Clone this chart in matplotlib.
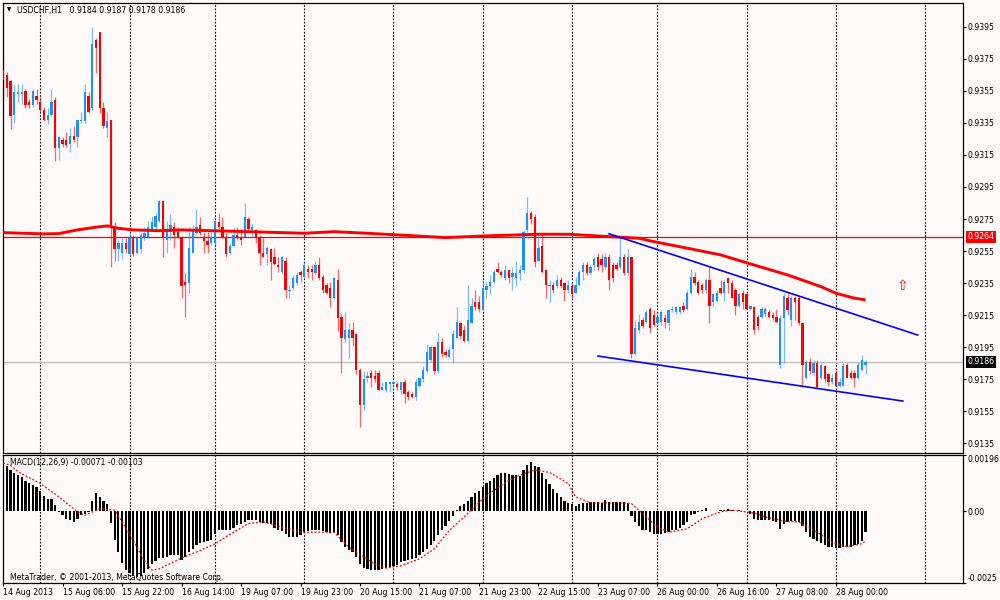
import numpy as np
import matplotlib.pyplot as plt

# USDCHF H1, one entry per hourly bar, 14 Aug 2013 14:00 ... 28 Aug 2013 08:00
opens = [
    0.9368, 0.9365, 0.9361, 0.9340, 0.9353, 0.9353, 0.9355, 0.9348, 0.9346, 0.9352,
    0.9348, 0.9343, 0.9337, 0.9340, 0.9349, 0.9319, 0.9324, 0.9324, 0.9322, 0.9327,
    0.9326, 0.9336, 0.9336, 0.9352, 0.9344, 0.9387, 0.9392, 0.9344, 0.9332, 0.9337,
    0.9270, 0.9256, 0.9254, 0.9260, 0.9253, 0.9264, 0.9254, 0.9256, 0.9264, 0.9264,
    0.9269, 0.9270, 0.9274, 0.9286, 0.9262, 0.9267, 0.9270, 0.9267, 0.9263, 0.9236,
    0.9235, 0.9254, 0.9266, 0.9271, 0.9264, 0.9261, 0.9260, 0.9260, 0.9273, 0.9270,
    0.9264, 0.9254, 0.9258, 0.9265, 0.9264, 0.9264, 0.9275, 0.9268, 0.9268, 0.9264,
    0.9254, 0.9253, 0.9256, 0.9251, 0.9246, 0.9242, 0.9249, 0.9230, 0.9232, 0.9235,
    0.9242, 0.9239, 0.9244, 0.9244, 0.9241, 0.9246, 0.9239, 0.9234, 0.9232, 0.9226,
    0.9237, 0.9214, 0.9200, 0.9201, 0.9206, 0.9203, 0.9181, 0.9159, 0.9176, 0.9179,
    0.9177, 0.9179, 0.9168, 0.9168, 0.9172, 0.9172, 0.9172, 0.9168, 0.9173, 0.9167,
    0.9166, 0.9164, 0.9171, 0.9175, 0.9180, 0.9187, 0.9195, 0.9180, 0.9198, 0.9192,
    0.9189, 0.9194, 0.9201, 0.9210, 0.9206, 0.9199, 0.9210, 0.9223, 0.9223, 0.9218,
    0.9231, 0.9233, 0.9236, 0.9244, 0.9242, 0.9238, 0.9243, 0.9239, 0.9238, 0.9241,
    0.9243, 0.9268, 0.9279, 0.9276, 0.9249, 0.9258, 0.9243, 0.9233, 0.9234, 0.9233,
    0.9237, 0.9235, 0.9231, 0.9233, 0.9229, 0.9234, 0.9242, 0.9246, 0.9241, 0.9246,
    0.9251, 0.9250, 0.9245, 0.9251, 0.9246, 0.9246, 0.9245, 0.9251, 0.9241, 0.9251,
    0.9191, 0.9206, 0.9212, 0.9211, 0.9219, 0.9215, 0.9210, 0.9211, 0.9213, 0.9210,
    0.9218, 0.9217, 0.9217, 0.9221, 0.9219, 0.9229, 0.9239, 0.9236, 0.9234, 0.9231,
    0.9237, 0.9223, 0.9224, 0.9232, 0.9229, 0.9238, 0.9235, 0.9231, 0.9221, 0.9229,
    0.9228, 0.9219, 0.9220, 0.9214, 0.9214, 0.9216, 0.9217, 0.9215, 0.9214, 0.9184,
    0.9213, 0.9226, 0.9212, 0.9226, 0.9226, 0.9210, 0.9176, 0.9186, 0.9179, 0.9185,
    0.9176, 0.9183, 0.9178, 0.9173, 0.9179, 0.9171, 0.9171, 0.9184, 0.9179, 0.9179,
    0.9176, 0.9181, 0.9184,
]
highs = [
    0.9377, 0.9367, 0.9362, 0.9359, 0.9359, 0.9359, 0.9356, 0.9350, 0.9356, 0.9356,
    0.9351, 0.9345, 0.9344, 0.9356, 0.9351, 0.9327, 0.9326, 0.9329, 0.9332, 0.9333,
    0.9337, 0.9342, 0.9359, 0.9354, 0.9395, 0.9388, 0.9392, 0.9348, 0.9342, 0.9337,
    0.9273, 0.9262, 0.9263, 0.9263, 0.9266, 0.9265, 0.9264, 0.9266, 0.9270, 0.9274,
    0.9277, 0.9279, 0.9287, 0.9287, 0.9274, 0.9278, 0.9273, 0.9270, 0.9264, 0.9241,
    0.9270, 0.9271, 0.9281, 0.9276, 0.9267, 0.9267, 0.9267, 0.9274, 0.9279, 0.9276,
    0.9266, 0.9260, 0.9270, 0.9270, 0.9269, 0.9285, 0.9276, 0.9272, 0.9269, 0.9265,
    0.9263, 0.9258, 0.9257, 0.9257, 0.9251, 0.9252, 0.9251, 0.9234, 0.9240, 0.9242,
    0.9243, 0.9249, 0.9246, 0.9246, 0.9249, 0.9251, 0.9240, 0.9235, 0.9236, 0.9239,
    0.9244, 0.9216, 0.9217, 0.9210, 0.9211, 0.9204, 0.9182, 0.9180, 0.9180, 0.9181,
    0.9181, 0.9181, 0.9173, 0.9173, 0.9174, 0.9174, 0.9173, 0.9173, 0.9175, 0.9168,
    0.9167, 0.9175, 0.9176, 0.9183, 0.9197, 0.9196, 0.9196, 0.9204, 0.9201, 0.9194,
    0.9195, 0.9206, 0.9220, 0.9211, 0.9209, 0.9234, 0.9226, 0.9231, 0.9227, 0.9237,
    0.9236, 0.9240, 0.9243, 0.9248, 0.9243, 0.9246, 0.9244, 0.9245, 0.9249, 0.9246,
    0.9268, 0.9289, 0.9280, 0.9278, 0.9266, 0.9266, 0.9244, 0.9237, 0.9236, 0.9240,
    0.9239, 0.9236, 0.9237, 0.9235, 0.9239, 0.9243, 0.9248, 0.9248, 0.9246, 0.9251,
    0.9254, 0.9253, 0.9254, 0.9253, 0.9248, 0.9248, 0.9264, 0.9253, 0.9256, 0.9251,
    0.9212, 0.9216, 0.9214, 0.9218, 0.9220, 0.9218, 0.9217, 0.9218, 0.9216, 0.9219,
    0.9221, 0.9221, 0.9221, 0.9223, 0.9231, 0.9244, 0.9242, 0.9237, 0.9235, 0.9238,
    0.9245, 0.9229, 0.9231, 0.9237, 0.9237, 0.9238, 0.9237, 0.9232, 0.9229, 0.9231,
    0.9229, 0.9221, 0.9221, 0.9215, 0.9220, 0.9220, 0.9218, 0.9217, 0.9219, 0.9215,
    0.9229, 0.9229, 0.9227, 0.9227, 0.9227, 0.9211, 0.9187, 0.9188, 0.9187, 0.9187,
    0.9185, 0.9184, 0.9179, 0.9178, 0.9181, 0.9176, 0.9185, 0.9185, 0.9181, 0.9181,
    0.9186, 0.9190, 0.9187,
]
lows = [
    0.9351, 0.9351, 0.9331, 0.9335, 0.9348, 0.9347, 0.9344, 0.9344, 0.9345, 0.9347,
    0.9342, 0.9336, 0.9334, 0.9339, 0.9311, 0.9312, 0.9320, 0.9320, 0.9317, 0.9323,
    0.9320, 0.9335, 0.9335, 0.9341, 0.9343, 0.9366, 0.9341, 0.9332, 0.9326, 0.9245,
    0.9249, 0.9249, 0.9250, 0.9254, 0.9252, 0.9252, 0.9253, 0.9254, 0.9262, 0.9263,
    0.9268, 0.9269, 0.9273, 0.9251, 0.9254, 0.9262, 0.9257, 0.9263, 0.9226, 0.9214,
    0.9229, 0.9254, 0.9265, 0.9265, 0.9254, 0.9254, 0.9259, 0.9259, 0.9269, 0.9263,
    0.9251, 0.9253, 0.9258, 0.9262, 0.9259, 0.9264, 0.9268, 0.9264, 0.9260, 0.9246,
    0.9251, 0.9246, 0.9237, 0.9246, 0.9242, 0.9241, 0.9226, 0.9226, 0.9231, 0.9234,
    0.9236, 0.9238, 0.9238, 0.9237, 0.9240, 0.9237, 0.9229, 0.9228, 0.9220, 0.9225,
    0.9205, 0.9179, 0.9198, 0.9188, 0.9196, 0.9178, 0.9145, 0.9156, 0.9173, 0.9170,
    0.9173, 0.9168, 0.9168, 0.9167, 0.9167, 0.9168, 0.9168, 0.9166, 0.9160, 0.9162,
    0.9163, 0.9162, 0.9170, 0.9173, 0.9179, 0.9186, 0.9178, 0.9179, 0.9189, 0.9189,
    0.9188, 0.9185, 0.9201, 0.9200, 0.9198, 0.9198, 0.9210, 0.9218, 0.9217, 0.9218,
    0.9226, 0.9228, 0.9235, 0.9241, 0.9239, 0.9237, 0.9235, 0.9231, 0.9233, 0.9237,
    0.9241, 0.9267, 0.9272, 0.9245, 0.9249, 0.9241, 0.9226, 0.9223, 0.9229, 0.9232,
    0.9232, 0.9224, 0.9229, 0.9226, 0.9229, 0.9233, 0.9237, 0.9240, 0.9240, 0.9243,
    0.9243, 0.9242, 0.9244, 0.9231, 0.9236, 0.9243, 0.9244, 0.9240, 0.9240, 0.9188,
    0.9190, 0.9204, 0.9207, 0.9210, 0.9204, 0.9208, 0.9208, 0.9209, 0.9207, 0.9206,
    0.9217, 0.9216, 0.9216, 0.9217, 0.9218, 0.9228, 0.9234, 0.9228, 0.9229, 0.9229,
    0.9210, 0.9221, 0.9223, 0.9228, 0.9224, 0.9229, 0.9226, 0.9215, 0.9220, 0.9219,
    0.9218, 0.9218, 0.9203, 0.9206, 0.9213, 0.9214, 0.9213, 0.9212, 0.9210, 0.9182,
    0.9185, 0.9215, 0.9208, 0.9212, 0.9209, 0.9170, 0.9175, 0.9178, 0.9177, 0.9169,
    0.9175, 0.9173, 0.9171, 0.9172, 0.9170, 0.9170, 0.9171, 0.9176, 0.9175, 0.9170,
    0.9175, 0.9180, 0.9178,
]
closes = [
    0.9362, 0.9357, 0.9339, 0.9354, 0.9354, 0.9354, 0.9346, 0.9346, 0.9355, 0.9349,
    0.9343, 0.9337, 0.9340, 0.9348, 0.9319, 0.9326, 0.9322, 0.9321, 0.9327, 0.9324,
    0.9337, 0.9337, 0.9354, 0.9342, 0.9384, 0.9382, 0.9344, 0.9333, 0.9336, 0.9270,
    0.9256, 0.9260, 0.9260, 0.9256, 0.9263, 0.9253, 0.9263, 0.9265, 0.9266, 0.9270,
    0.9273, 0.9277, 0.9286, 0.9263, 0.9269, 0.9271, 0.9265, 0.9264, 0.9233, 0.9234,
    0.9257, 0.9269, 0.9270, 0.9266, 0.9261, 0.9259, 0.9264, 0.9274, 0.9270, 0.9264,
    0.9253, 0.9258, 0.9265, 0.9264, 0.9262, 0.9276, 0.9269, 0.9270, 0.9264, 0.9254,
    0.9251, 0.9257, 0.9248, 0.9247, 0.9245, 0.9251, 0.9231, 0.9231, 0.9238, 0.9240,
    0.9240, 0.9246, 0.9242, 0.9242, 0.9246, 0.9238, 0.9231, 0.9229, 0.9226, 0.9238,
    0.9213, 0.9201, 0.9206, 0.9206, 0.9201, 0.9181, 0.9159, 0.9175, 0.9177, 0.9176,
    0.9175, 0.9168, 0.9170, 0.9173, 0.9173, 0.9173, 0.9170, 0.9173, 0.9166, 0.9164,
    0.9164, 0.9173, 0.9176, 0.9181, 0.9192, 0.9195, 0.9180, 0.9198, 0.9191, 0.9190,
    0.9193, 0.9203, 0.9211, 0.9202, 0.9199, 0.9212, 0.9221, 0.9220, 0.9219, 0.9232,
    0.9233, 0.9236, 0.9242, 0.9242, 0.9240, 0.9243, 0.9238, 0.9241, 0.9241, 0.9243,
    0.9267, 0.9279, 0.9275, 0.9248, 0.9257, 0.9242, 0.9234, 0.9234, 0.9231, 0.9237,
    0.9233, 0.9231, 0.9234, 0.9228, 0.9234, 0.9242, 0.9246, 0.9241, 0.9245, 0.9250,
    0.9245, 0.9246, 0.9251, 0.9237, 0.9238, 0.9244, 0.9251, 0.9241, 0.9251, 0.9191,
    0.9207, 0.9211, 0.9208, 0.9217, 0.9207, 0.9209, 0.9214, 0.9217, 0.9211, 0.9218,
    0.9219, 0.9220, 0.9220, 0.9218, 0.9229, 0.9239, 0.9235, 0.9229, 0.9231, 0.9237,
    0.9221, 0.9228, 0.9229, 0.9229, 0.9236, 0.9235, 0.9226, 0.9221, 0.9228, 0.9223,
    0.9219, 0.9221, 0.9206, 0.9208, 0.9219, 0.9219, 0.9214, 0.9213, 0.9211, 0.9213,
    0.9227, 0.9218, 0.9226, 0.9223, 0.9210, 0.9184, 0.9186, 0.9180, 0.9185, 0.9170,
    0.9184, 0.9175, 0.9173, 0.9176, 0.9171, 0.9173, 0.9183, 0.9176, 0.9176, 0.9176,
    0.9184, 0.9187, 0.9186,
]

# MACD(12,26,9) main value per bar
macd_main = [
    0.00170, 0.00156, 0.00142, 0.00135, 0.00126, 0.00118, 0.00106, 0.00097, 0.00091, 0.00085,
    0.00071, 0.00053, 0.00044, 0.00041, 0.00021, -0.00004, -0.00014, -0.00026, -0.00032, -0.00037,
    -0.00026, -0.00014, -0.00008, -0.00002, 0.00036, 0.00064, 0.00050, 0.00036, 0.00027, -0.00041,
    -0.00099, -0.00143, -0.00181, -0.00205, -0.00216, -0.00225, -0.00228, -0.00225, -0.00216, -0.00201,
    -0.00184, -0.00172, -0.00163, -0.00163, -0.00158, -0.00154, -0.00151, -0.00154, -0.00170, -0.00158,
    -0.00143, -0.00131, -0.00116, -0.00111, -0.00108, -0.00104, -0.00099, -0.00081, -0.00067, -0.00067,
    -0.00067, -0.00064, -0.00057, -0.00049, -0.00043, -0.00037, -0.00032, -0.00029, -0.00029, -0.00037,
    -0.00041, -0.00041, -0.00046, -0.00057, -0.00067, -0.00069, -0.00078, -0.00090, -0.00090, -0.00090,
    -0.00084, -0.00073, -0.00069, -0.00067, -0.00067, -0.00067, -0.00069, -0.00073, -0.00076, -0.00073,
    -0.00084, -0.00108, -0.00125, -0.00135, -0.00143, -0.00160, -0.00184, -0.00198, -0.00202, -0.00204,
    -0.00205, -0.00205, -0.00202, -0.00198, -0.00193, -0.00190, -0.00186, -0.00178, -0.00172, -0.00170,
    -0.00166, -0.00163, -0.00154, -0.00143, -0.00131, -0.00116, -0.00104, -0.00084, -0.00067, -0.00053,
    -0.00034, -0.00018, 0.00006, 0.00018, 0.00025, 0.00036, 0.00050, 0.00064, 0.00071, 0.00083,
    0.00097, 0.00106, 0.00115, 0.00126, 0.00132, 0.00132, 0.00130, 0.00126, 0.00126, 0.00123,
    0.00142, 0.00161, 0.00173, 0.00158, 0.00153, 0.00132, 0.00111, 0.00095, 0.00076, 0.00062,
    0.00050, 0.00036, 0.00029, 0.00025, 0.00018, 0.00025, 0.00029, 0.00029, 0.00033, 0.00033,
    0.00033, 0.00029, 0.00039, 0.00033, 0.00033, 0.00033, 0.00033, 0.00033, 0.00029, -0.00018,
    -0.00037, -0.00053, -0.00064, -0.00067, -0.00073, -0.00078, -0.00078, -0.00081, -0.00076, -0.00073,
    -0.00067, -0.00064, -0.00057, -0.00049, -0.00037, -0.00014, -0.00008, -0.00002, 0.00006, 0.00013,
    0.00001, 0.00001, 0.00001, 0.00004, 0.00006, 0.00009, 0.00006, 0.00001, 0.00004, 0.00001,
    0.00000, -0.00011, -0.00026, -0.00032, -0.00032, -0.00032, -0.00032, -0.00034, -0.00037, -0.00061,
    -0.00046, -0.00037, -0.00034, -0.00034, -0.00037, -0.00053, -0.00073, -0.00088, -0.00096, -0.00104,
    -0.00111, -0.00119, -0.00123, -0.00125, -0.00128, -0.00128, -0.00125, -0.00125, -0.00123, -0.00119,
    -0.00113, -0.00104, -0.00071,
]
# signal line, read at a number of bars
signal_bars = [0, 2, 4, 10, 15, 20, 22, 26, 30, 32, 35, 38, 40, 42, 48, 53, 57, 62, 66, 70,
               75, 80, 89, 93, 100, 103, 107, 112, 116, 120, 125, 129, 134, 138, 143, 147,
               152, 154, 158, 165, 169, 172, 176, 179, 184, 188, 193, 196, 202, 205, 210,
               214, 219, 223, 227, 231, 232]
signal_vals = [0.00168, 0.00160, 0.00138, 0.00097, 0.00050, -0.00002, -0.00014, 0.00009,
               0.00004, -0.00037, -0.00102, -0.00172, -0.00205, -0.00201, -0.00163, -0.00137,
               -0.00113, -0.00073, -0.00043, -0.00037, -0.00055, -0.00073, -0.00073, -0.00125,
               -0.00184, -0.00198, -0.00190, -0.00166, -0.00131, -0.00067, -0.00008, 0.00044,
               0.00091, 0.00121, 0.00144, 0.00135, 0.00097, 0.00050, 0.00029, 0.00029, 0.00027,
               -0.00008, -0.00055, -0.00073, -0.00061, -0.00026, -0.00002, 0.00004, -0.00006,
               -0.00020, -0.00034, -0.00037, -0.00073, -0.00108, -0.00123, -0.00113, -0.00103]

# moving average (thick red), read at a number of bars
ma_bars = [0, 7, 11, 15, 20, 25, 28, 31, 35, 42, 48, 66, 81, 89, 98, 106, 110, 119, 129,
           144, 152, 163, 171, 175, 184, 193, 202, 211, 220, 224, 229, 232]
ma_vals = [0.92665, 0.92660, 0.92657, 0.92659, 0.92682, 0.92699, 0.92707, 0.92692, 0.92682,
           0.92677, 0.92682, 0.92671, 0.92661, 0.92671, 0.92661, 0.92651, 0.92646, 0.92634,
           0.92644, 0.92655, 0.92655, 0.92640, 0.92630, 0.92609, 0.92568, 0.92526, 0.92463,
           0.92401, 0.92328, 0.92287, 0.92256, 0.92245]

# chart objects
hline_price = 0.9264
bid_price = 0.9186
upper_trend_bars = [163, 246]
upper_trend_prices = [0.92658, 0.92026]
lower_trend_bars = [160, 242]
lower_trend_prices = [0.91895, 0.91614]
arrow_bar = 242
arrow_price = 0.9233

day_start_bars = [10, 34, 57, 81, 105, 129, 153, 176, 200, 224, 248]
label_bars = [0, 16, 32, 48, 64, 80, 96, 112, 128, 144, 160, 176, 192, 208, 224]
time_labels = ['14 Aug 2013', '15 Aug 06:00', '15 Aug 22:00', '16 Aug 14:00',
               '19 Aug 07:00', '19 Aug 23:00', '20 Aug 15:00', '21 Aug 07:00',
               '21 Aug 23:00', '22 Aug 15:00', '23 Aug 07:00', '26 Aug 00:00',
               '26 Aug 16:00', '27 Aug 08:00', '28 Aug 00:00']
price_ticks = np.arange(9135, 9396, 20) / 10000.0

bg = '#fffafa'
bull = '#1e90ff'
bear = '#ff0000'
fs = 5.6

o = np.array(opens)
h = np.array(highs)
l = np.array(lows)
c = np.array(closes)
x = np.arange(len(c))
up = c >= o
cols = np.where(up, bull, bear)

fig = plt.figure(figsize=(10, 6), dpi=100, facecolor=bg)
ax = fig.add_axes([2.7 / 1000, 1 - 452.5 / 600, 960.3 / 1000, 450 / 600], facecolor=bg)
ax2 = fig.add_axes([2.7 / 1000, 1 - 583 / 600, 960.3 / 1000, 128 / 600], facecolor=bg)

xl = (-0.11, 258.2)

# --- price panel
for d in day_start_bars:
    ax.axvline(d, color='black', lw=0.8, ls=(0, (1.5, 1.5)), zorder=1)
ax.axhline(bid_price, color='#c0c0c0', lw=1, zorder=1)
ax.axhline(hline_price, color='red', lw=0.9, zorder=1)

ax.vlines(x, l, h, colors=cols, lw=0.9, alpha=0.6, zorder=2)
body_lo = np.minimum(o, c)
body_h = np.maximum(np.abs(c - o), 0.00006)
ax.bar(x, body_h, bottom=body_lo, width=0.62, color=cols, linewidth=0, zorder=3)

ax.plot(ma_bars, ma_vals, color='red', lw=2.1, solid_capstyle='butt', zorder=4)
ax.plot(upper_trend_bars, upper_trend_prices, color='#0000ff', lw=1.2, zorder=4)
ax.plot(lower_trend_bars, lower_trend_prices, color='#0000ff', lw=1.2, zorder=4)
ax.text(arrow_bar, arrow_price, '\u21e7', color='red', fontsize=10,
        ha='center', va='center', zorder=5)

ax.set_xlim(*xl)
ax.set_ylim(0.91293, 0.94101)
ax.set_xticks([])
ax.yaxis.tick_right()
ax.set_yticks(price_ticks)
ax.set_yticklabels(['%.4f' % p for p in price_ticks])
ax.tick_params(axis='y', direction='out', length=2.2, width=0.8, pad=1.2,
               labelsize=fs, colors='black')

tr = ax.get_yaxis_transform()
ax.text(1.0045, hline_price, '%.4f' % hline_price, transform=tr, color='white',
        fontsize=fs, va='center', ha='left',
        bbox=dict(boxstyle='square,pad=0.2', fc='red', ec='none'))
ax.text(1.0045, bid_price, '%.4f' % bid_price, transform=tr, color='white',
        fontsize=fs, va='center', ha='left',
        bbox=dict(boxstyle='square,pad=0.2', fc='black', ec='none'))

fig.text(7 / 1000, 1 - 10 / 600, '\u25bc', fontsize=4, va='center', ha='left')
fig.text(17 / 1000, 1 - 10 / 600, 'USDCHF,H1   0.9184 0.9187 0.9178 0.9186',
         fontsize=fs, va='center', ha='left')

# --- MACD panel
for d in day_start_bars:
    ax2.axvline(d, color='black', lw=0.8, ls=(0, (1.5, 1.5)), zorder=1)
ax2.bar(x, macd_main, width=0.6, color='black', linewidth=0, zorder=2)
ax2.plot(signal_bars, signal_vals, color='red', lw=0.9, ls=(0, (1.5, 1.5)), zorder=3)
ax2.set_xlim(*xl)
ax2.set_ylim(-0.0025, 0.00196)
ax2.yaxis.tick_right()
ax2.set_yticks([-0.0025, 0.0, 0.00196])
ax2.set_yticklabels(['-0.0025', '0.00', '0.00196'])
ax2.tick_params(axis='y', direction='out', length=2.2, width=0.8, pad=1.2, labelsize=fs)
ylab = ax2.get_yticklabels()
ylab[0].set_va('bottom')
ylab[2].set_va('top')
ax2.set_xticks(label_bars)
ax2.set_xticklabels(time_labels, ha='left')
ax2.tick_params(axis='x', direction='out', length=2.2, width=0.8, pad=1.5, labelsize=fs)

ax2.text(7 / 960.3, 1 - 8 / 128, 'MACD(12,26,9) -0.00071 -0.00103', transform=ax2.transAxes,
         fontsize=fs, va='center', ha='left')
ax2.text(7 / 960.3, 1 - 122 / 128, 'MetaTrader, \u00a9 2001-2013, MetaQuotes Software Corp.',
         transform=ax2.transAxes, fontsize=fs, va='center', ha='left')

for a in (ax, ax2):
    for s in a.spines.values():
        s.set_color('black')
        s.set_linewidth(0.9)

fig.savefig('out.png', dpi=100, facecolor=bg)
